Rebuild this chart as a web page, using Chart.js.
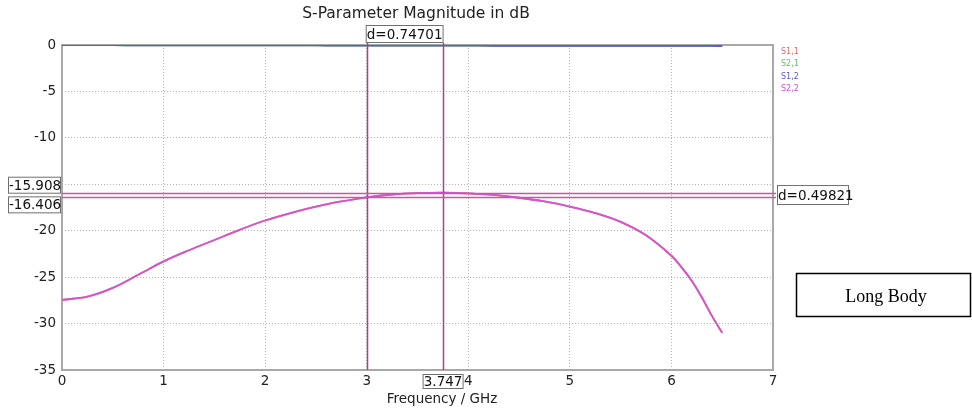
<!DOCTYPE html>
<html>
<head>
<meta charset="utf-8">
<script src="https://cdn.jsdelivr.net/npm/chart.js@4"></script>
<style>
html,body{margin:0;padding:0;background:#fff;}
#wrap{position:relative;width:972px;height:412px;}
canvas{display:block;}
</style>
</head>
<body>
<div id="wrap"><canvas id="c" width="972" height="412"></canvas></div>
<script>
// ---- data ----
const freq = [0, 0.25, 0.5, 0.75, 1, 1.25, 1.5, 1.75, 2, 2.25, 2.5, 2.75, 3, 3.25, 3.5, 3.75, 4, 4.25, 4.5, 4.75, 5, 5.25, 5.5, 5.75, 6, 6.1, 6.2, 6.3, 6.4, 6.5];
const s22 = [-27.45, -27.1, -26.15, -24.75, -23.3, -22.1, -21.0, -19.9, -18.9, -18.1, -17.4, -16.85, -16.40, -16.10, -15.95, -15.91, -15.97, -16.15, -16.45, -16.85, -17.4, -18.1, -19.05, -20.5, -22.7, -23.95, -25.4, -27.2, -29.2, -31.0];
const s11 = [-27.45, -27.1, -26.15, -24.75, -23.3, -22.1, -21.0, -19.9, -18.9, -18.1, -17.4, -16.85, -16.40, -16.10, -15.95, -15.91, -15.97, -16.15, -16.45, -16.85, -17.4, -18.1, -19.05, -20.5, -22.7, -23.95, -25.4, -27.2, -29.2, -31.0];
const s21 = [-0.01, -0.01, -0.01, -0.02, -0.02, -0.02, -0.03, -0.03, -0.03, -0.04, -0.04, -0.05, -0.05, -0.05, -0.06, -0.06, -0.06, -0.07, -0.07, -0.07, -0.08, -0.08, -0.08, -0.08, -0.09, -0.09, -0.09, -0.09, -0.09, -0.10];
const s12 = [-0.01, -0.01, -0.01, -0.02, -0.02, -0.02, -0.03, -0.03, -0.03, -0.04, -0.04, -0.05, -0.05, -0.05, -0.06, -0.06, -0.06, -0.07, -0.07, -0.07, -0.08, -0.08, -0.08, -0.08, -0.09, -0.09, -0.09, -0.09, -0.09, -0.10];
const seriesNames = ['S1,1', 'S2,1', 'S1,2', 'S2,2'];
const xTicks = [0, 1, 2, 3, 4, 5, 6, 7];
const yTicks = [0, -5, -10, -15, -20, -25, -30, -35];
const markerX = [3, 3.747];
const markerY = [-15.908, -16.406];
const markerXLabel = '3.747';
const markerYLabels = ['-15.908', '-16.406'];
const deltaXLabel = 'd=0.74701';
const deltaYLabel = 'd=0.49821';
const titleText = 'S-Parameter Magnitude in dB';
const xTitle = 'Frequency / GHz';
const noteText = 'Long Body';

const colors = {S11:'#e06a6a', S21:'#5cc85c', S12:'#5a5ad2', S22:'#d455d4'};
const pts = arr => freq.map((f,i)=>({x:f, y:arr[i]}));
const FONT = '"DejaVu Sans", sans-serif';

const overlay = {
  id:'overlay',
  beforeDatasetsDraw(chart){
    const {ctx, chartArea:a} = chart;
    ctx.save();
    ctx.strokeStyle = '#a8a8a8';
    ctx.lineWidth = 2;
    ctx.strokeRect(a.left, a.top, a.right-a.left, a.bottom-a.top);
    ctx.restore();
  },
  afterDatasetsDraw(chart){
    const {ctx, chartArea:a, scales} = chart;
    const xs = scales.x, ys = scales.y;
    ctx.save();
    // marker lines
    ctx.strokeStyle = '#a8428c';
    ctx.lineWidth = 1.5;
    markerX.forEach(v=>{
      const px = Math.round(xs.getPixelForValue(v))+0.5;
      ctx.beginPath(); ctx.moveTo(px, a.top-2); ctx.lineTo(px, a.bottom); ctx.stroke();
    });
    ctx.strokeStyle = '#c45aa6';
    markerY.forEach(v=>{
      const py = Math.round(ys.getPixelForValue(v))+0.5;
      ctx.beginPath(); ctx.moveTo(a.left, py); ctx.lineTo(a.right+3, py); ctx.stroke();
    });
    // label boxes
    const box = (txt, x, y, w, h, align) => {
      ctx.fillStyle = '#fff';
      ctx.fillRect(x, y, w, h);
      ctx.strokeStyle = '#707070';
      ctx.lineWidth = 1;
      ctx.strokeRect(x+0.5, y+0.5, w-1, h-1);
      ctx.fillStyle = '#111';
      ctx.font = '13.5px ' + FONT;
      ctx.textBaseline = 'middle';
      ctx.textAlign = align || 'center';
      const tx = align==='left' ? x+1 : x + w/2;
      ctx.fillText(txt, tx, y + h/2 + 1);
    };
    const x0 = xs.getPixelForValue(markerX[0]);
    const x1 = xs.getPixelForValue(markerX[1]);
    box(deltaXLabel, x0-1, a.top-20, (x1-x0)+2, 18);
    box(markerXLabel, x1-20, a.bottom+4, 41, 15);
    const y0 = ys.getPixelForValue(markerY[0]);
    const y1 = ys.getPixelForValue(markerY[1]);
    box(markerYLabels[0], 8, y0-16, a.left-9, 17, 'left');
    box(markerYLabels[1], 8, y1-1, a.left-9, 17, 'left');
    box(deltaYLabel, a.right+4, (y0+y1)/2-10, 72, 20, 'left');
    // legend
    ctx.font = '8px ' + FONT;
    ctx.textAlign = 'left';
    ctx.textBaseline = 'middle';
    const lc = [colors.S11, colors.S21, colors.S12, colors.S22];
    seriesNames.forEach((n,i)=>{
      ctx.fillStyle = lc[i];
      ctx.fillText(n, a.right+8, a.top+7+i*12.3);
    });
    // title & x title
    ctx.fillStyle = '#222';
    ctx.font = '15.5px ' + FONT;
    ctx.textAlign = 'center';
    ctx.fillText(titleText, 416, 14);
    ctx.font = '13.5px ' + FONT;
    ctx.fillText(xTitle, 442, 399);
    // note box
    ctx.strokeStyle = '#000';
    ctx.lineWidth = 1.5;
    ctx.strokeRect(796.5, 273.5, 174, 43);
    ctx.fillStyle = '#000';
    ctx.font = '18px "Liberation Serif", serif';
    ctx.fillText(noteText, 886, 297);
    ctx.restore();
  }
};

new Chart(document.getElementById('c'), {
  type:'line',
  data:{
    datasets:[
      {label:seriesNames[3], data:pts(s22), borderColor:colors.S22, borderWidth:1.8, order:0},
      {label:seriesNames[2], data:pts(s12), borderColor:colors.S12, borderWidth:2, order:1},
      {label:seriesNames[1], data:pts(s21), borderColor:colors.S21, borderWidth:2, order:2},
      {label:seriesNames[0], data:pts(s11), borderColor:colors.S11, borderWidth:1.8, order:3}
    ]
  },
  plugins:[overlay],
  options:{
    responsive:false,
    animation:false,
    devicePixelRatio:1,
    layout:{padding:{left:0, right:199, top:45, bottom:0}},
    elements:{point:{radius:0}, line:{tension:0.35, fill:false}},
    plugins:{legend:{display:false}, title:{display:false}, tooltip:{enabled:false}},
    scales:{
      x:{
        type:'linear', min:0, max:7,
        afterBuildTicks(s){ s.ticks = xTicks.map(v=>({value:v})); },
        afterFit(s){ s.height = 42; },
        ticks:{color:'#222', font:{size:13.5, family:FONT}, padding:3, maxRotation:0},
        grid:{color:'#b4b4b4', drawTicks:false, lineWidth:1},
        border:{display:false, dash:[1,2]}
      },
      y:{
        type:'linear', min:-35, max:0,
        afterBuildTicks(s){ s.ticks = yTicks.map(v=>({value:v})); },
        afterFit(s){ s.width = 62; },
        ticks:{color:'#222', font:{size:13.5, family:FONT}, padding:6},
        grid:{color:'#b4b4b4', drawTicks:false, lineWidth:1},
        border:{display:false, dash:[1,2]}
      }
    }
  }
});
</script>
</body>
</html>
